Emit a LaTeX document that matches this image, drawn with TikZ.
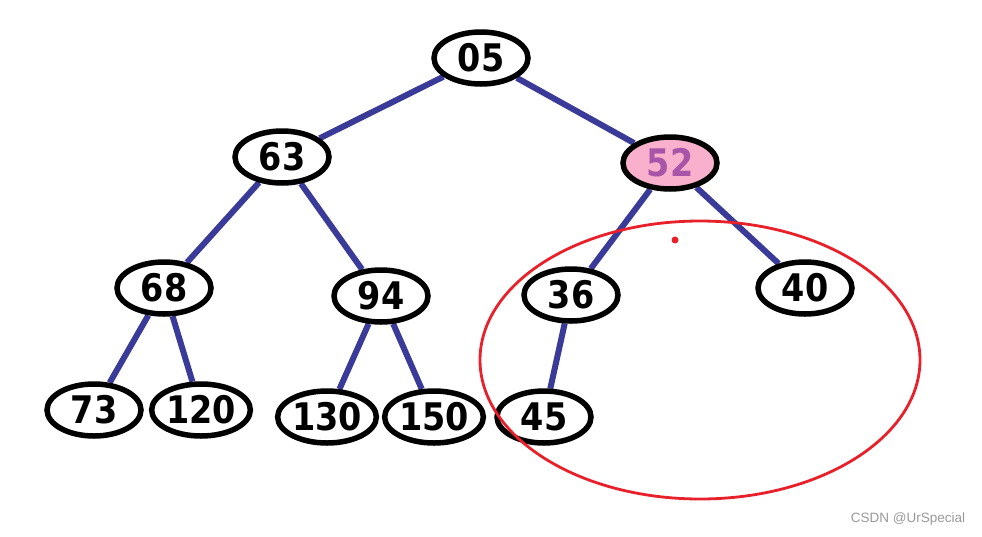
\documentclass[tikz,border=0pt]{standalone}
\usepackage{fontspec}
\setmainfont{Liberation Sans}
\newfontfamily\numfont[FakeStretch=0.88,BoldFont={DejaVu Sans Bold}]{DejaVu Sans}
\usetikzlibrary{shapes.geometric,backgrounds}
\definecolor{edgeblue}{RGB}{58,58,152}
\definecolor{heapred}{RGB}{232,32,42}
\definecolor{pinkfill}{RGB}{248,176,204}
\definecolor{purpletext}{RGB}{168,84,168}
\tikzset{
  heapnode/.style={ellipse, draw=black, line width=5.5pt, fill=white,
    minimum width=94pt, minimum height=52pt, inner sep=0pt,
    font=\numfont\bfseries\fontsize{38}{40}\selectfont},
  link/.style={draw=edgeblue, line width=6pt},
}
\begin{document}
\begin{tikzpicture}[x=1pt,y=-1pt]
\useasboundingbox (0,0) rectangle (982,536);
\node[heapnode] (n05) at (481,58) {05};
\node[heapnode] (n63) at (282,157) {63};
\node[heapnode, fill=pinkfill, text=purpletext] (n52) at (670,163) {52};
\node[heapnode] (n68) at (164,288) {68};
\node[heapnode] (n94) at (381,296) {94};
\node[heapnode] (n36) at (571,295) {36};
\node[heapnode] (n40) at (805,288) {40};
\node[heapnode] (n73) at (94,410) {73};
\node[heapnode] (n120) at (201,410) {120};
\node[heapnode] (n130) at (327,417) {130};
\node[heapnode] (n150) at (434,417) {150};
\node[heapnode] (n45) at (544,417) {45};
\begin{scope}[on background layer]
\draw[link] (n05) -- (n63);
\draw[link] (n05) -- (n52);
\draw[link] (n63) -- (n68);
\draw[link] (n63) -- (n94);
\draw[link] (n52) -- (n36);
\draw[link] (n52) -- (n40);
\draw[link] (n68) -- (n73);
\draw[link] (n68) -- (n120);
\draw[link] (n94) -- (n130);
\draw[link] (n94) -- (n150);
\draw[link] (n36) -- (n45);
\end{scope}
\node[ellipse, draw=heapred, line width=2.8pt, minimum width=440pt, minimum height=278pt, inner sep=0pt] (ring) at (700,360) {};
\node[circle, fill=heapred, inner sep=0pt, minimum size=7pt] (dot) at (675,240) {};
\node[text=black!40, font=\fontsize{13.5}{15}\selectfont] (mark) at (908,519) {CSDN @UrSpecial};
\end{tikzpicture}
\end{document}
